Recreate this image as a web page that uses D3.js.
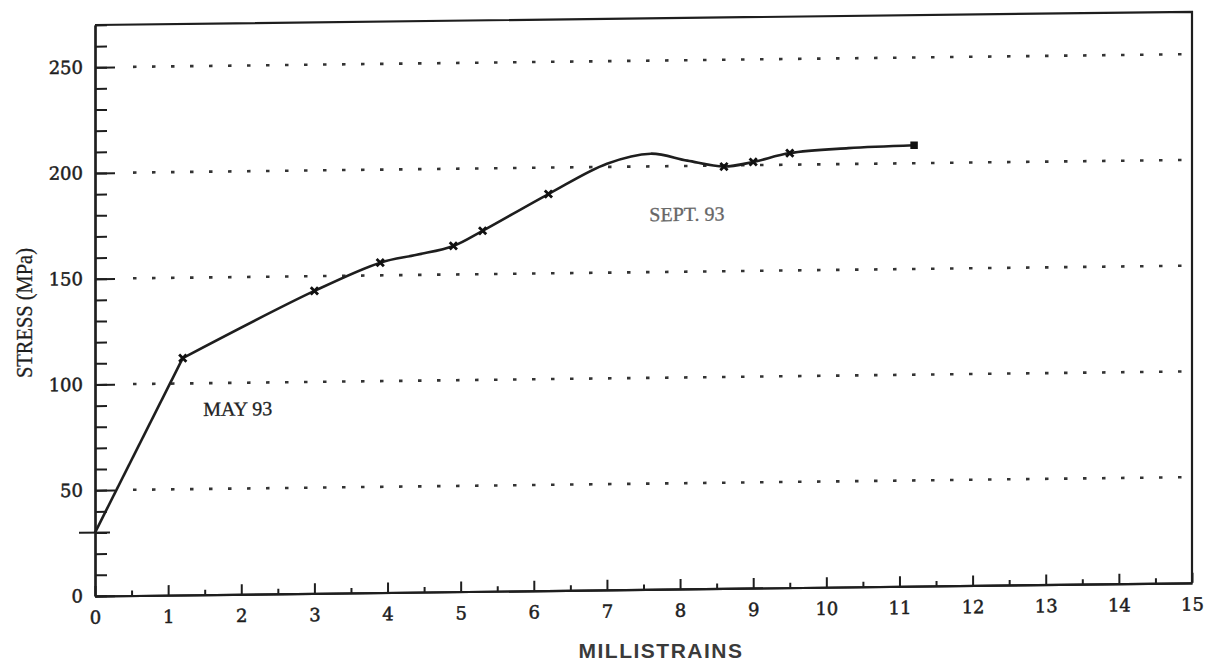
<!DOCTYPE html>
<html>
<head>
<meta charset="utf-8">
<script src="https://cdn.jsdelivr.net/npm/d3@7/dist/d3.min.js"></script>
<style>
  html, body { margin: 0; padding: 0; background: #fff; }
  svg { display: block; }
</style>
</head>
<body>
<svg id="chart" width="1210" height="664"></svg>
<script>
// Stress–strain record, MAY 93 to SEPT. 93
const strain = [0, 1.2, 3.0, 3.9, 4.4, 4.9, 5.3, 6.2, 7.0, 7.6, 8.1, 8.6, 9.0, 9.5, 10.3, 11.2];
const stress = [30, 112, 143, 156, 159.5, 163.5, 170.5, 187.5, 201.5, 206, 202.5, 199.5, 201.5, 205.5, 207.5, 208.5];
// which readings carry a plotted marker (last one is the square end mark)
const marked = [false, true, true, true, false, true, true, true, false, false, false, true, true, true, false, true];

const xTicks = [0, 1, 2, 3, 4, 5, 6, 7, 8, 9, 10, 11, 12, 13, 14, 15];
const xMinorTicks = d3.range(0.5, 15, 1);
const yTicks = [0, 50, 100, 150, 200, 250];
const yMinorTicks = d3.range(0, 271, 10);
const gridValues = [50, 100, 150, 200, 250];
const annotations = [
  { text: "MAY 93", x: 1.48, y: 84.5, color: "#222" },
  { text: "SEPT. 93", x: 7.58, y: 174, color: "#666" }
];

const svg = d3.select("#chart");
const ink = "#1e1e1e";

const x = d3.scaleLinear().domain([0, 15]).range([95, 1192]);
const y = d3.scaleLinear().domain([0, 270]).range([596, 25]);

// the page is slightly skewed, rising to the right
const k = 0.012;
const g = svg.append("g")
  .attr("transform", `matrix(1,${-k},0,1,0,${k * 95})`);

// dotted reference lines
g.append("g").selectAll("line").data(gridValues).join("line")
  .attr("x1", 133).attr("x2", 1182)
  .attr("y1", d => y(d)).attr("y2", d => y(d))
  .attr("stroke", "#333").attr("stroke-width", 2.6)
  .attr("stroke-dasharray", "3.5,15.5");

// frame: top and right edges
g.append("path")
  .attr("d", `M${x(0)},${y(270)}H${x(15)}V${y(0)}`)
  .attr("fill", "none").attr("stroke", ink).attr("stroke-width", 2.2);

// y axis: minor ticks, then labelled major ticks
const yMinor = g.append("g").attr("transform", `translate(${x(0)},0)`)
  .call(d3.axisLeft(y).tickValues(yMinorTicks).tickSizeInner(-12).tickSizeOuter(0).tickFormat(""));
const yMajor = g.append("g").attr("transform", `translate(${x(0)},0)`)
  .call(d3.axisLeft(y).tickValues(yTicks).tickSizeInner(-20).tickSizeOuter(0).tickPadding(12));

// x axis
const xMinor = g.append("g").attr("transform", `translate(0,${y(0)})`)
  .call(d3.axisBottom(x).tickValues(xMinorTicks).tickSizeInner(-5).tickSizeOuter(0).tickFormat(""));
const xMajor = g.append("g").attr("transform", `translate(0,${y(0)})`)
  .call(d3.axisBottom(x).tickValues(xTicks).tickSizeInner(-10).tickSizeOuter(0).tickPadding(15));

[yMinor, yMajor, xMinor, xMajor].forEach(a => {
  a.selectAll(".domain").attr("stroke", ink).attr("stroke-width", 2.2);
  a.selectAll(".tick line").attr("stroke", ink).attr("stroke-width", 2);
  a.selectAll("text")
    .attr("fill", ink)
    .attr("stroke", ink).attr("stroke-width", 0.5)
    .style("font-family", "'DejaVu Serif', serif")
    .style("font-size", "18px");
});

// starting-level mark on the stress axis
g.append("line")
  .attr("x1", x(0) - 16).attr("x2", x(0) + 15)
  .attr("y1", y(stress[0])).attr("y2", y(stress[0]))
  .attr("stroke", ink).attr("stroke-width", 2);

// curve: straight initial loading, smooth afterwards
const pts = strain.map((s, i) => ({ s, v: stress[i], m: marked[i] }));
const lineStraight = d3.line().x(d => x(d.s)).y(d => y(d.v));
const lineSmooth = d3.line().x(d => x(d.s)).y(d => y(d.v)).curve(d3.curveCatmullRom.alpha(0.5));

g.append("path").attr("d", lineStraight(pts.slice(0, 2)))
  .attr("fill", "none").attr("stroke", ink).attr("stroke-width", 2.6);
g.append("path").attr("d", lineSmooth(pts.slice(1)))
  .attr("fill", "none").attr("stroke", ink).attr("stroke-width", 2.6);

// markers
const markPts = pts.filter(d => d.m);
const last = markPts[markPts.length - 1];
g.append("g").selectAll("path").data(markPts.slice(0, -1)).join("path")
  .attr("transform", d => `translate(${x(d.s)},${y(d.v)})`)
  .attr("d", d3.symbol(d3.symbolX, 36)())
  .attr("fill", "none").attr("stroke", "#111").attr("stroke-width", 2.8);
g.append("path")
  .attr("transform", `translate(${x(last.s)},${y(last.v)})`)
  .attr("d", d3.symbol(d3.symbolSquare, 56)())
  .attr("fill", "#111");

// period labels
g.append("g").selectAll("text").data(annotations).join("text")
  .attr("x", d => x(d.x)).attr("y", d => y(d.y))
  .attr("fill", d => d.color)
  .attr("stroke", d => d.color).attr("stroke-width", 0.3)
  .style("font-family", "'Liberation Serif', serif")
  .style("font-size", "20px")
  .text(d => d.text);

// axis titles
svg.append("text")
  .attr("x", 661).attr("y", 658)
  .attr("text-anchor", "middle")
  .attr("fill", "#3a3a3a")
  .style("font-family", "'Liberation Sans', Arial, sans-serif")
  .style("font-weight", "bold")
  .style("font-size", "21px")
  .style("letter-spacing", "1.5px")
  .text("MILLISTRAINS");

svg.append("text")
  .attr("transform", "translate(32,313) rotate(-90)")
  .attr("text-anchor", "middle")
  .attr("fill", ink)
  .attr("stroke", ink).attr("stroke-width", 0.3)
  .attr("textLength", 130)
  .attr("lengthAdjust", "spacingAndGlyphs")
  .style("font-family", "'Liberation Serif', serif")
  .style("font-size", "23px")
  .text("STRESS (MPa)");
</script>
</body>
</html>
